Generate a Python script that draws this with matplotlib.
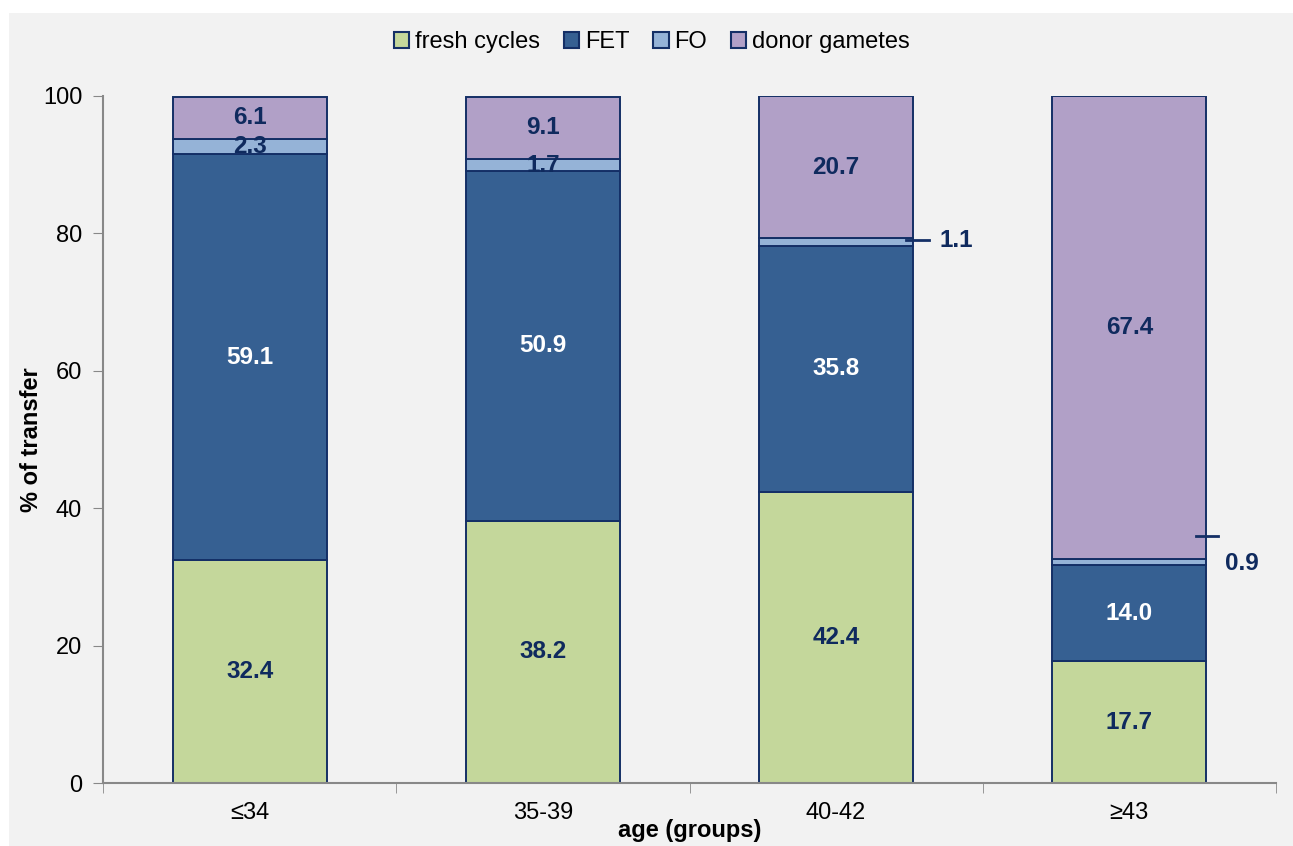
import matplotlib
matplotlib.use("Agg")
import matplotlib.pyplot as plt
from matplotlib.patches import Rectangle
import numpy as np

plt.rcParams['font.family'] = ['Liberation Sans', 'DejaVu Sans']

categories = ['≤34', '35-39', '40-42', '≥43']
series_names = ['fresh cycles', 'FET', 'FO', 'donor gametes']
fresh = [32.4, 38.2, 42.4, 17.7]
fet = [59.1, 50.9, 35.8, 14.0]
fo = [2.3, 1.7, 1.1, 0.9]
donor = [6.1, 9.1, 20.7, 67.4]

colors = ['#c4d79b', '#366092', '#95b3d7', '#b1a0c7']
navy = '#0f2a5e'
label_colors = [navy, 'white', navy, navy]
edge = '#142f66'

W, H = 1293, 846
fig = plt.figure(figsize=(W / 100, H / 100), dpi=100, facecolor='white')
fig.patches.append(Rectangle((9 / W, 0), 1 - 9 / W, 1 - 13 / H,
                             transform=fig.transFigure, facecolor='#f2f2f2',
                             edgecolor='none', zorder=-10))
ax = fig.add_axes([103 / W, 1 - 783 / H, (1276 - 103) / W, (783 - 96) / H])
ax.set_facecolor('#f2f2f2')

x = np.arange(len(categories))
width = 0.526
bottom = np.zeros(len(categories))
data = [fresh, fet, fo, donor]
for vals, name, c, lc in zip(data, series_names, colors, label_colors):
    vals = np.array(vals)
    ax.bar(x, vals, width, bottom=bottom, color=c, edgecolor=edge,
           linewidth=1.4, label=name, zorder=2)
    for i, v in enumerate(vals):
        if name == 'FO' and i >= 2:
            continue
        ax.text(x[i], bottom[i] + v / 2, f'{v:.1f}', ha='center', va='center',
                fontsize=17.5, fontweight='bold', color=lc, zorder=3)
    bottom = bottom + vals

# leader annotations for small FO values
right2 = x[2] + width / 2
ax.plot([right2 - 0.025, right2 + 0.055], [79.0, 79.0], color=edge, lw=2, zorder=4)
ax.text(right2 + 0.088, 78.9, f'{fo[2]:.1f}', ha='left', va='center',
        fontsize=17.5, fontweight='bold', color=navy)
right3 = x[3] + width / 2
ax.plot([right3 - 0.035, right3 + 0.04], [36.0, 36.0], color=edge, lw=2, zorder=4)
ax.text(right3 + 0.063, 32.0, f'{fo[3]:.1f}', ha='left', va='center',
        fontsize=17.5, fontweight='bold', color=navy)

ax.set_xlim(-0.5, len(categories) - 0.5)
ax.set_ylim(0, 100)
ax.set_yticks(np.arange(0, 101, 20))
ax.tick_params(axis='y', direction='out', length=7, color='#888888',
               labelsize=17, pad=8)
ax.set_xticks(x)
ax.set_xticklabels(categories, fontsize=17)
ax.tick_params(axis='x', length=0, pad=14)
ax.set_xticks(np.arange(-0.5, len(categories), 1), minor=True)
ax.tick_params(axis='x', which='minor', direction='out', length=7, color='#888888')

for s in ['top', 'right']:
    ax.spines[s].set_visible(False)
for s in ['left', 'bottom']:
    ax.spines[s].set_color('#888888')
    ax.spines[s].set_linewidth(1.5)

ax.set_ylabel('% of transfer', fontsize=17, fontweight='bold', labelpad=0)
ax.set_xlabel('age (groups)', fontsize=17, fontweight='bold', labelpad=-4)

leg = fig.legend(loc='center', bbox_to_anchor=(652 / W, 1 - 42 / H), ncol=4,
                 frameon=False, fontsize=17, handlelength=0.65, handleheight=0.65,
                 handletextpad=0.25, columnspacing=1.0)
for h in leg.legend_handles:
    h.set_edgecolor(edge)
    h.set_linewidth(1.5)

fig.savefig('out.png', dpi=100, facecolor='white')
